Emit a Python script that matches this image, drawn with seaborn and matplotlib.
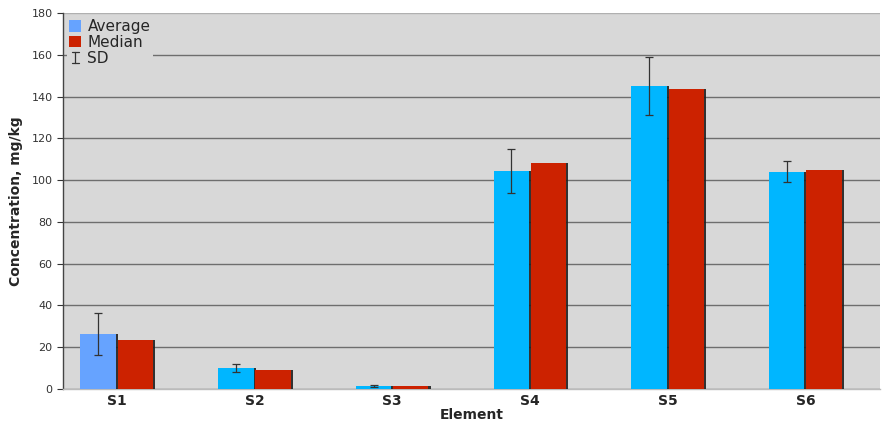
import numpy as np
import pandas as pd
import matplotlib
matplotlib.use("Agg")
import matplotlib.pyplot as plt
import seaborn as sns
from matplotlib.patches import Patch
from matplotlib.lines import Line2D
from matplotlib.legend_handler import HandlerBase
from matplotlib import patheffects as pe

elements = ["S1", "S2", "S3", "S4", "S5", "S6"]
average = [26.5, 10.0, 1.5, 104.5, 145.0, 104.0]
median = [23.5, 9.3, 1.5, 108.0, 143.5, 105.0]
sd = [10.0, 2.0, 0.5, 10.5, 14.0, 5.0]

df = pd.DataFrame({
    "Element": elements * 2,
    "value": average + median,
    "stat": ["Average"] * len(elements) + ["Median"] * len(elements),
})

bg = "#d8d8d8"
cyan = "#00b6ff"
light_blue = "#66a3ff"
red = "#cc2200"
whisker = "#333333"

sns.set_theme(style="white")
plt.rcParams["font.family"] = ["DejaVu Sans"]

fig = plt.figure(figsize=(8.85, 4.26), dpi=100)
ax = fig.add_axes([0.0712, 0.0869, 0.9228, 0.8826])
ax.set_facecolor(bg)

sns.barplot(data=df, x="Element", y="value", hue="stat",
            palette={"Average": cyan, "Median": red}, saturation=1,
            width=0.54, gap=0.05, errorbar=None, ax=ax, legend=False,
            zorder=3)

# bar patches: first the Average series, then the Median series
bars = [p for p in ax.patches if p.get_height() > 0]
avg_bars = bars[:len(elements)]
med_bars = bars[len(elements):]
avg_bars[0].set_facecolor(light_blue)
for p in bars:
    p.set_edgecolor("none")
    p.set_path_effects([pe.SimplePatchShadow(offset=(1.6, 0), shadow_rgbFace="#202020", alpha=0.9),
                        pe.Normal()])

# SD whiskers on the Average bars
xc = [p.get_x() + p.get_width() / 2 for p in avg_bars]
ax.errorbar(xc, average, yerr=sd, fmt="none", ecolor=whisker,
            elinewidth=0.9, capsize=3, capthick=0.9, zorder=5)

ax.set_ylim(0, 180)
ax.set_xlim(-0.39, 5.54)
ax.set_yticks(np.arange(0, 181, 20))
ax.yaxis.grid(True, color="#6e6e6e", linewidth=1.0, zorder=0)
ax.set_axisbelow(True)
ax.get_ygridlines()[-1].set_color("#b0b0b0")

ax.tick_params(axis="y", labelsize=8, colors="#333333", length=4, width=0.8,
               left=True, direction="out")
ax.tick_params(axis="x", labelsize=10, length=0)
for lbl in ax.get_xticklabels():
    lbl.set_fontweight("bold")

for side in ["top", "right"]:
    ax.spines[side].set_visible(False)
ax.spines["left"].set_color("#444444")
ax.spines["left"].set_linewidth(1.0)
ax.spines["bottom"].set_color("#bbbbbb")
ax.spines["bottom"].set_linewidth(1.0)

ax.set_xlabel("Element", fontsize=10, fontweight="bold", labelpad=0)
ax.set_ylabel("Concentration, mg/kg", fontsize=10, fontweight="bold", labelpad=6)


class WhiskerHandler(HandlerBase):
    """Legend key drawn as a small capped vertical whisker."""
    def create_artists(self, legend, orig_handle, xdescent, ydescent,
                       width, height, fontsize, trans):
        cx = width / 2 - xdescent
        y0 = -ydescent + height * 0.05
        y1 = -ydescent + height * 0.95
        cap = width * 0.3
        lines = [
            Line2D([cx, cx], [y0, y1]),
            Line2D([cx - cap, cx + cap], [y0, y0]),
            Line2D([cx - cap, cx + cap], [y1, y1]),
        ]
        for ln in lines:
            ln.set_color(whisker)
            ln.set_linewidth(0.9)
            ln.set_transform(trans)
        return lines


sd_key = Line2D([], [])
handles = [
    Patch(facecolor=light_blue, edgecolor="none"),
    Patch(facecolor=red, edgecolor="none"),
    sd_key,
]
leg = ax.legend(handles, ["Average", "Median", "SD"], loc="upper left",
                bbox_to_anchor=(0.0, 1.0), frameon=True, fontsize=11,
                fancybox=False, handlelength=0.8, handleheight=0.8,
                handletextpad=0.4, labelspacing=0.05, borderpad=0.15,
                borderaxespad=0.25, handler_map={sd_key: WhiskerHandler()})
leg.get_frame().set_facecolor(bg)
leg.get_frame().set_edgecolor("none")
leg.get_frame().set_alpha(1.0)
leg.set_zorder(6)

fig.savefig("out.png", dpi=100)
